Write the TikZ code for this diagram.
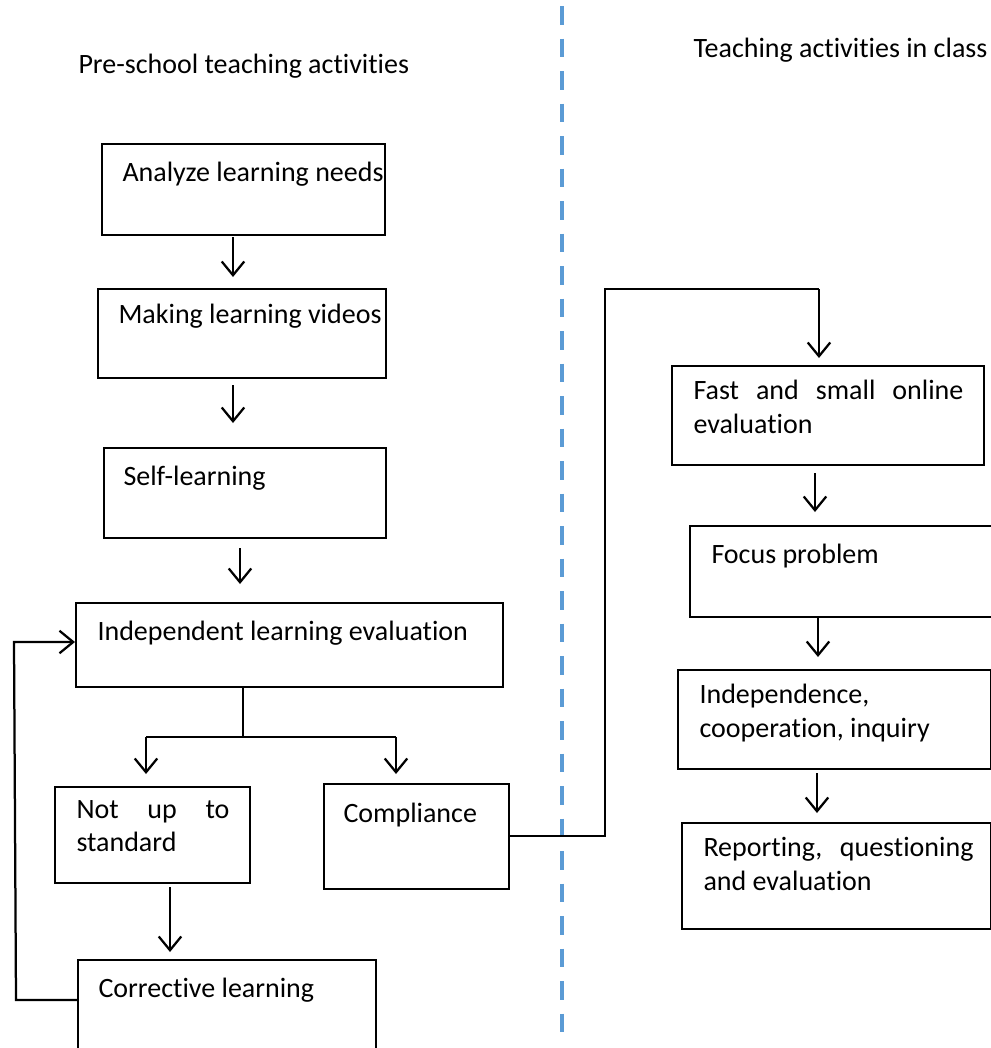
\documentclass[tikz,border=0pt]{standalone}
\usepackage{fontspec}
\setmainfont{Carlito}[Ligatures=NoCommon]
\usetikzlibrary{arrows.meta}
\begin{document}
\begin{tikzpicture}[x=0.4pt,y=-0.4pt,
  box/.style={draw=black,line width=0.9pt,inner sep=0pt,anchor=north west},
  txt/.style={anchor=base west,inner sep=0pt,font=\fontsize{11.2pt}{13.4pt}\selectfont},
  jtxt/.style={txt,align=justify},
  conn/.style={draw=black,line width=0.9pt},
  arr/.style={conn,-{Straight Barb[length=5.5pt,width=9pt,line width=0.9pt]}},
  divider/.style={draw={rgb,255:red,91;green,155;blue,213},line width=1.6pt,dash pattern=on 7.5pt off 5.5pt}]
\useasboundingbox (0,0) rectangle (991,1048);
% divider
\coordinate (dtop) at (562,6);
\coordinate (dbot) at (562,1032);
\path[divider] (dtop) -- (dbot);
% titles
\node[txt] (tl) at (78,73) {Pre-school teaching activities};
\node[txt] (tr) at (693,57) {Teaching activities in class};
% left column boxes
\node[box,minimum width=283*0.4pt,minimum height=91*0.4pt] (b1) at (101,143) {};
\node[txt] (t1) at (122,181) {Analyze learning needs};
\node[box,minimum width=288*0.4pt,minimum height=89*0.4pt] (b2) at (97,288) {};
\node[txt] (t2) at (118,323) {Making learning videos};
\node[box,minimum width=282*0.4pt,minimum height=90*0.4pt] (b3) at (103,447) {};
\node[txt] (t3) at (123,485) {Self-learning};
\node[box,minimum width=427*0.4pt,minimum height=84*0.4pt] (b4) at (75,602) {};
\node[txt] (t4) at (97,640) {Independent learning evaluation};
\node[box,minimum width=195*0.4pt,minimum height=96*0.4pt] (b5) at (54,786) {};
\node[jtxt,text width=153*0.4pt,anchor=north west] (t5) at (76,800) {Not up to standard};
\node[box,minimum width=185*0.4pt,minimum height=105*0.4pt] (b6) at (323,783) {};
\node[txt] (t6) at (343,822) {Compliance};
\node[box,minimum width=298*0.4pt,minimum height=95*0.4pt] (b7) at (77,959) {};
\node[txt] (t7) at (98,997) {Corrective learning};
% right column boxes
\node[box,minimum width=312*0.4pt,minimum height=99*0.4pt] (r1) at (671,365) {};
\node[jtxt,text width=270*0.4pt,anchor=north west] (s1) at (693,380) {Fast and small online evaluation};
\node[box,minimum width=310*0.4pt,minimum height=91*0.4pt] (r2) at (689,525) {};
\node[txt] (s2) at (711,563) {Focus problem};
\node[box,minimum width=313*0.4pt,minimum height=99*0.4pt] (r3) at (677,669) {};
\node[txt,align=left,anchor=north west] (s3) at (699,684) {Independence,\\cooperation, inquiry};
\node[box,minimum width=309*0.4pt,minimum height=106*0.4pt] (r4) at (681,822) {};
\node[jtxt,text width=270*0.4pt,anchor=north west] (s4) at (703,837) {Reporting, questioning and evaluation};
% arrows left
\draw[arr] (233,237) -- (233,277);
\draw[arr] (233,385) -- (233,423);
\draw[arr] (240,548) -- (240,584);
\coordinate (split) at (243,737);
\coordinate (splitL) at (146,737);
\coordinate (splitR) at (396,737);
\draw[conn] (b4.south -| split) -- (split);
\draw[conn] (splitL) -- (splitR);
\draw[arr] (splitL) -- (splitL |- 0,774);
\draw[arr] (splitR) -- (splitR |- 0,774);
\draw[arr] (170,887) -- (170,952);
\coordinate (fbA) at (16,1000);
\coordinate (fbB) at (14,642);
\draw[arr] (b7.west |- fbA) -- (fbA) -- (fbB) -- (b4.west |- fbB);
% compliance to right column
\coordinate (cA) at (605,836);
\coordinate (cB) at (605,289);
\coordinate (cC) at (819,289);
\draw[conn] (b6.east |- cA) -- (cA) -- (cB) -- (cC);
\draw[arr] (cC) -- (819,358);
% arrows right
\draw[arr] (815,473) -- (815,512);
\draw[arr] (818,617) -- (818,657);
\draw[arr] (817,773) -- (817,813);
\end{tikzpicture}
\end{document}
